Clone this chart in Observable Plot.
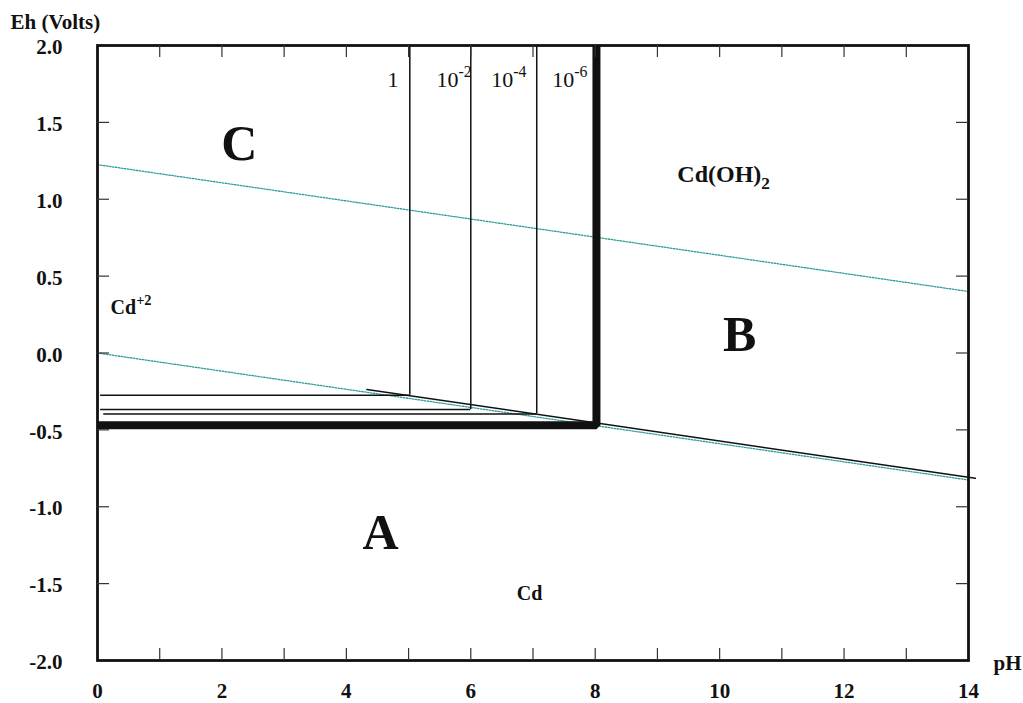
<!DOCTYPE html>
<html><head><meta charset="utf-8">
<script src="https://cdn.jsdelivr.net/npm/d3@7"></script>
<script src="https://cdn.jsdelivr.net/npm/@observablehq/plot@0.6"></script>
<style>body{margin:0;background:#fff;} svg{display:block}</style>
</head><body><div id="chart"></div>
<script>
// ---- data ----
const xTicks = [1,2,3,4,5,6,7,8,9,10,11,12,13];
const xTickLabels = [0,2,4,6,8,10,12,14];
const yTicks = [-1.5,-1,-0.5,0,0.5,1,1.5];
const yTickLabels = [-2,-1.5,-1,-0.5,0,0.5,1,1.5,2];

// water stability lines (pH, Eh)
const waterUpperPH = [0,14], waterUpperEh = [1.225,0.40];
const waterLowerPH = [0,14], waterLowerEh = [0.0,-0.826];
// Cd / Cd(OH)2 boundary
const cdBoundaryPH = [4.33,14.11], cdBoundaryEh = [-0.237,-0.815];
// activity-dependent boundaries of Cd+2 field
const activityLabels = ["1","10^{-2}","10^{-4}","10^{-6}"];
const boundaryPH = [5.02,6.0,7.06,8.02];          // Cd+2 / Cd(OH)2
const boundaryEh = [-0.275,-0.368,-0.397,-0.47];  // Cd+2 / Cd
const boundaryStartPH = [0.05,0.05,0.1,0];
const activityLabelPH = [4.66,5.45,6.33,7.31];
const activityLabelEh = [1.775,1.775,1.775,1.775];

const regionNames = ["C","B","A"];
const regionPH = [2.28,10.32,4.55];
const regionEh = [1.36,0.114,-1.168];
const speciesNames = ["Cd^{+2}","Cd(OH)_{2}","Cd"];
const speciesPH = [0.21,9.32,6.74];
const speciesEh = [0.295,1.16,-1.564];

// ---- build ----
const W = 1023, H = 703, mL = 97, mR = 55, mT = 45, mB = 43;
const innerW = W - mL - mR, innerH = H - mT - mB;
const idx = d3.range(activityLabels.length);
const thin = idx.slice(0,3);
const last = activityLabels.length - 1;
const thick = [
  {pH: boundaryStartPH[last], Eh: boundaryEh[last]},
  {pH: boundaryPH[last], Eh: boundaryEh[last]},
  {pH: boundaryPH[last], Eh: 2}
];
const pts = (xs, ys) => xs.map((x,i) => ({pH: x, Eh: ys[i]}));

const font = "'Liberation Serif', 'Times New Roman', serif";
const svg = Plot.plot({
  width: W, height: H,
  marginLeft: mL, marginRight: mR, marginTop: mT, marginBottom: mB,
  style: {fontFamily: font, background: "white", color: "#111"},
  x: {domain: [0,14], axis: null},
  y: {domain: [-2,2], axis: null},
  marks: [
    // water lines
    Plot.line(pts(waterUpperPH, waterUpperEh), {x:"pH", y:"Eh", stroke:"#2a9d98", strokeWidth:1.3, strokeDasharray:"1.5,1.5"}),
    Plot.line(pts(waterLowerPH, waterLowerEh), {x:"pH", y:"Eh", stroke:"#2a9d98", strokeWidth:1.3, strokeDasharray:"1.5,1.5"}),
    // Cd/Cd(OH)2
    Plot.line(pts(cdBoundaryPH, cdBoundaryEh), {x:"pH", y:"Eh", stroke:"#111", strokeWidth:1.5}),
    // thin activity lines
    Plot.ruleX(thin, {x: i => boundaryPH[i], y1: i => boundaryEh[i], y2: 2, stroke:"#111", strokeWidth:1.5}),
    Plot.ruleY(thin, {y: i => boundaryEh[i], x1: i => boundaryStartPH[i], x2: i => boundaryPH[i], stroke:"#111", strokeWidth:1.5}),
    // thick 10^-6 boundary
    Plot.line(thick, {x:"pH", y:"Eh", stroke:"#111", strokeWidth:8, strokeLinejoin:"miter", strokeLinecap:"butt"}),
    // frame and inward ticks
    Plot.frame({stroke:"#111", strokeWidth:2.8}),
    Plot.ruleX(xTicks, {x: d => d, insetTop: innerH - 12, stroke:"#333", strokeWidth:1.2}),
    Plot.ruleX(xTicks, {x: d => d, insetBottom: innerH - 12, stroke:"#333", strokeWidth:1.2}),
    Plot.ruleY(yTicks, {y: d => d, insetRight: innerW - 12, stroke:"#333", strokeWidth:1.2}),
    Plot.ruleY(yTicks, {y: d => d, insetLeft: innerW - 12, stroke:"#333", strokeWidth:1.2}),
    // tick labels
    Plot.text(yTickLabels, {y: d => d, text: d => d.toFixed(1), frameAnchor:"left", dx:-35, dy:2, textAnchor:"end", lineAnchor:"middle", fontSize:21, fontWeight:"bold"}),
    Plot.text(xTickLabels, {x: d => d, text: d => String(d), frameAnchor:"bottom", dy:31, lineAnchor:"middle", fontSize:21, fontWeight:"bold"}),
    Plot.text(["Eh (Volts)"], {frameAnchor:"top-left", dx:-87, dy:-23, textAnchor:"start", lineAnchor:"middle", fontSize:21, fontWeight:"bold"}),
    Plot.text(["pH"], {frameAnchor:"bottom-right", dx:25, dy:3, textAnchor:"start", lineAnchor:"middle", fontSize:21, fontWeight:"bold"}),
    // labels
    Plot.text(idx, {x: i => activityLabelPH[i], y: i => activityLabelEh[i], text: i => activityLabels[i], textAnchor:"start", fontSize:22, fill:"#111"}),
    Plot.text(regionNames, {x: (d,i) => regionPH[i], y: (d,i) => regionEh[i], text: d => d, fontSize:50, fontWeight:"bold"}),
    Plot.text(speciesNames, {x: (d,i) => speciesPH[i], y: (d,i) => speciesEh[i], text: d => d, textAnchor:"start", fontSize: (d,i) => i === 1 ? 24 : 20, fontWeight:"bold"})
  ]
});

// superscripts / subscripts
d3.select(svg).selectAll("text").each(function() {
  const t = this.textContent;
  const m = t.match(/^(.*?)([\^_])\{(.*)\}$/);
  if (!m) return;
  const el = d3.select(this);
  el.text(m[1]);
  const sup = m[2] === "^";
  el.append("tspan").attr("font-size", "0.72em").attr("dy", sup ? "-0.65em" : "0.4em").text(m[3]);
});

document.getElementById("chart").appendChild(svg);
</script>
</body></html>
